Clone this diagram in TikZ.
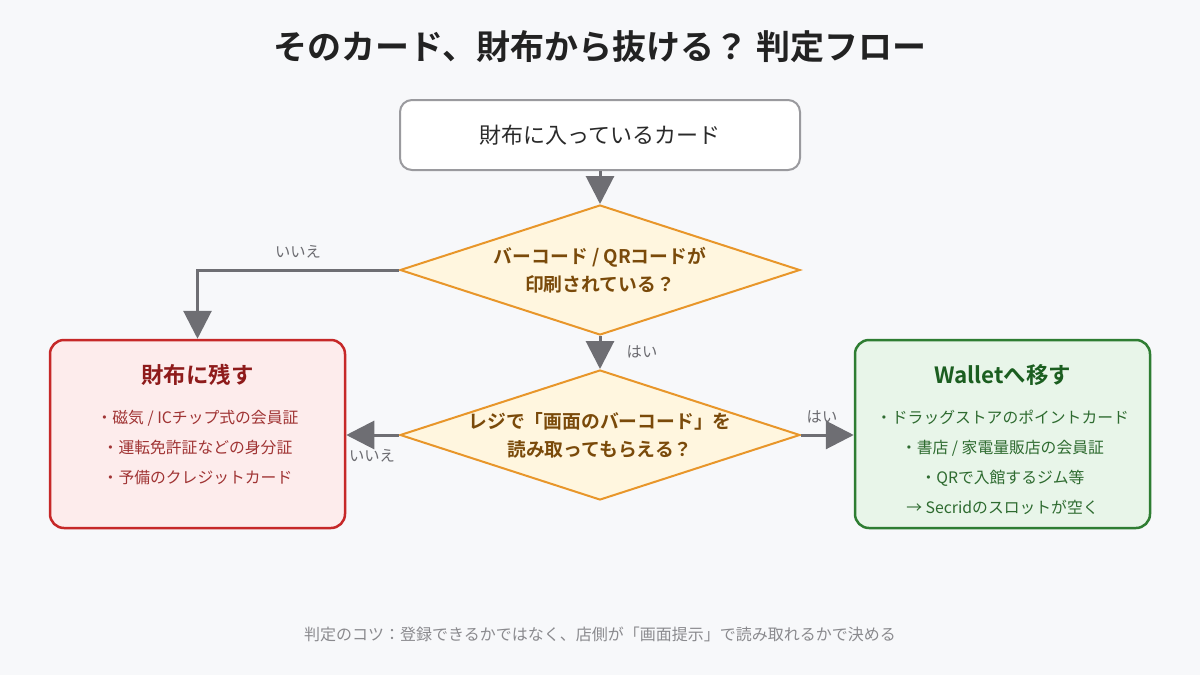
\documentclass[tikz,border=0pt]{standalone}
\usepackage{fontspec}
\setmainfont{Noto Sans CJK JP}[BoldFont={Noto Sans CJK JP Bold}]
\usetikzlibrary{arrows.meta,shapes.geometric}
\definecolor{bgc}{HTML}{F7F8FA}
\definecolor{titlec}{HTML}{222222}
\definecolor{grayline}{HTML}{6E6E73}
\definecolor{startline}{HTML}{9A9A9E}
\definecolor{darktext}{HTML}{2A2A2A}
\definecolor{dfill}{HTML}{FFF6DF}
\definecolor{dline}{HTML}{E8962A}
\definecolor{dtextc}{HTML}{7A4A0A}
\definecolor{rfill}{HTML}{FDECEC}
\definecolor{rline}{HTML}{C62828}
\definecolor{rtitle}{HTML}{8E1B1B}
\definecolor{rtext}{HTML}{A03434}
\definecolor{gfill}{HTML}{E8F5E9}
\definecolor{gline}{HTML}{2E7D32}
\definecolor{gtitle}{HTML}{1B5E20}
\definecolor{gtext}{HTML}{2E6B30}
\definecolor{lblc}{HTML}{6B6B70}
\definecolor{footc}{HTML}{8A8A8E}
\tikzset{
  conn/.style={draw=grayline, line width=3pt, -{Triangle[width=28pt,length=28pt]}},
  startbox/.style={draw=startline, fill=white, line width=2pt, rounded corners=12pt, minimum width=400pt, minimum height=70pt, inner sep=0pt, text=darktext, font=\fontsize{22}{26}\selectfont},
  decision/.style={diamond, draw=dline, fill=dfill, line width=2pt, minimum width=400pt, minimum height=130pt, inner sep=0pt},
  dtext/.style={align=center, text=dtextc, font=\bfseries\fontsize{18.8}{28}\selectfont},
  resbox/.style={line width=2.5pt, rounded corners=14pt, minimum width=295pt, minimum height=188pt, inner sep=0pt},
  lbl/.style={text=lblc, font=\fontsize{15.3}{18}\selectfont},
}
\begin{document}
\begin{tikzpicture}[x=1pt,y=-1pt]
\fill[bgc] (0,0) rectangle (1200,675);
\useasboundingbox (0,0) rectangle (1200,675);

\node[text=titlec, font=\bfseries\fontsize{34}{38}\selectfont] (title) at (600,47) {そのカード、財布から抜ける？ 判定フロー};

\node[startbox] (start) at (600,135) {財布に入っているカード};

\node[decision] (d1) at (600,270) {};
\node[dtext] (d1t) at (600,270) {バーコード / QRコードが\\印刷されている？};

\node[decision] (d2) at (600,435) {};
\node[dtext] (d2t) at (600,435) {レジで「画面のバーコード」を\\読み取ってもらえる？};

\node[resbox, draw=rline, fill=rfill] (red) at (197.5,434) {};
\node[text=rtitle, font=\bfseries\fontsize{22.4}{26}\selectfont] (redt) at (197.5,375) {財布に残す};
\node[text=rtext, align=center, font=\fontsize{15.8}{30}\selectfont] (redl) at (197.5,447) {・磁気 / ICチップ式の会員証\\・運転免許証などの身分証\\・予備のクレジットカード};

\node[resbox, draw=gline, fill=gfill] (green) at (1002.5,434) {};
\node[text=gtitle, font=\bfseries\fontsize{22.4}{26}\selectfont] (greent) at (1002.5,375) {Walletへ移す};
\node[text=gtext, align=center, font=\fontsize{15.8}{30}\selectfont] (greenl) at (1002.5,462) {・ドラッグストアのポイントカード\\・書店 / 家電量販店の会員証\\・QRで入館するジム等\\→ Secridのスロットが空く};

\draw[conn] (start) -- (d1);
\draw[conn] (d1) -- (d2);
\draw[conn] (d1.west) -| (red.north);
\draw[conn] (d2.west) -- (red.east |- d2.west);
\draw[conn] (d2.east) -- (green.west |- d2.east);

\node[lbl] (l1) at (298,252) {いいえ};
\node[lbl] (l2) at (642,352) {はい};
\node[lbl] (l3) at (372,456) {いいえ};
\node[lbl] (l4) at (822,417) {はい};

\node[text=footc, font=\fontsize{16}{20}\selectfont] (foot) at (600,634) {判定のコツ：登録できるかではなく、店側が「画面提示」で読み取れるかで決める};
\end{tikzpicture}
\end{document}
